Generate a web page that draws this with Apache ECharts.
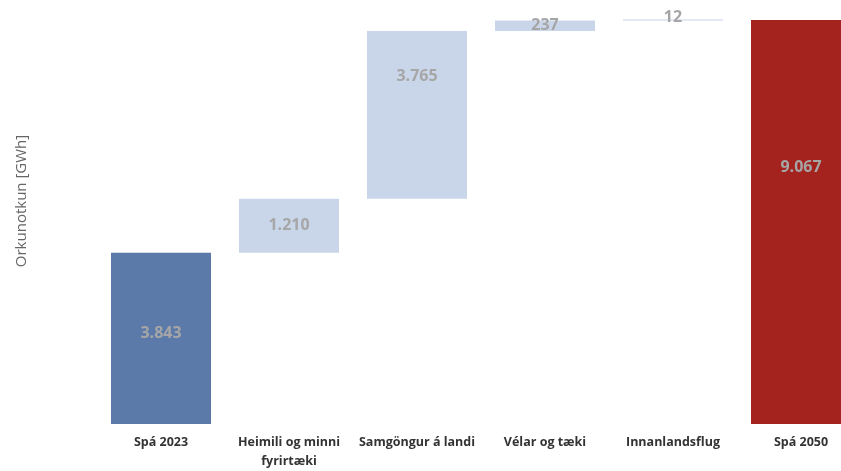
<!DOCTYPE html>
<html>
<head>
<meta charset="utf-8">
<script src="https://cdn.jsdelivr.net/npm/echarts@6/dist/echarts.min.js"></script>
<style>html,body{margin:0;padding:0;background:#fff}#c{width:841px;height:471px}</style>
</head>
<body>
<div id="c"></div>
<script>
const categories = ["Spá 2023", "Heimili og minni\nfyrirtæki", "Samgöngur á landi", "Vélar og tæki", "Innanlandsflug", "Spá 2050"];
const values = [3843, 1210, 3765, 237, 12, 9067];
const kinds = ["start", "step", "step", "step", "step", "total"];

const colors = {start: "#5b7aaa", step: "#c9d6ea", total: "#a4231f"};
const labelShift = [-5, 0, -39, 0, -3, -55];

const fmt = v => String(v).replace(/\B(?=(\d{3})+(?!\d))/g, ".");

const base = [];
let cum = 0;
values.forEach((v, i) => {
  if (kinds[i] === "step") { base.push(cum); cum += v; }
  else { base.push(0); cum = v; }
});

const chart = echarts.init(document.getElementById('c'));
chart.setOption({
  animation: false,
  grid: {left: 161, right: 40, top: 20, bottom: 46, containLabel: false},
  xAxis: {
    type: 'category', data: categories, boundaryGap: false,
    axisLine: {show: false}, axisTick: {show: false},
    axisLabel: {color: '#333', fontWeight: 'bold', fontSize: 12.5, fontFamily: 'Open Sans', lineHeight: 19, margin: 9, interval: 0}
  },
  yAxis: {type: 'value', min: 0, max: 9067, show: false},
  graphic: [{
    type: 'text', x: 22, y: 201, rotation: Math.PI / 2,
    style: {text: 'Orkunotkun [GWh]', fill: '#666', font: '15px "Open Sans"', align: 'center', verticalAlign: 'middle'}
  }],
  series: [
    {type: 'bar', stack: 'w', barWidth: 100, clip: false, data: base, itemStyle: {color: 'transparent'}, silent: true},
    {
      type: 'bar', stack: 'w', barWidth: 100, clip: false, barMinHeight: 1,
      data: values.map((v, i) => ({
        value: v,
        itemStyle: {color: colors[kinds[i]]},
        label: {position: 'inside', offset: [0, labelShift[i]]}
      })),
      label: {show: true, formatter: p => fmt(p.value), color: '#a6a6a6', fontWeight: 'bold', fontSize: 16, fontFamily: 'Open Sans'}
    }
  ]
});
</script>
</body>
</html>
